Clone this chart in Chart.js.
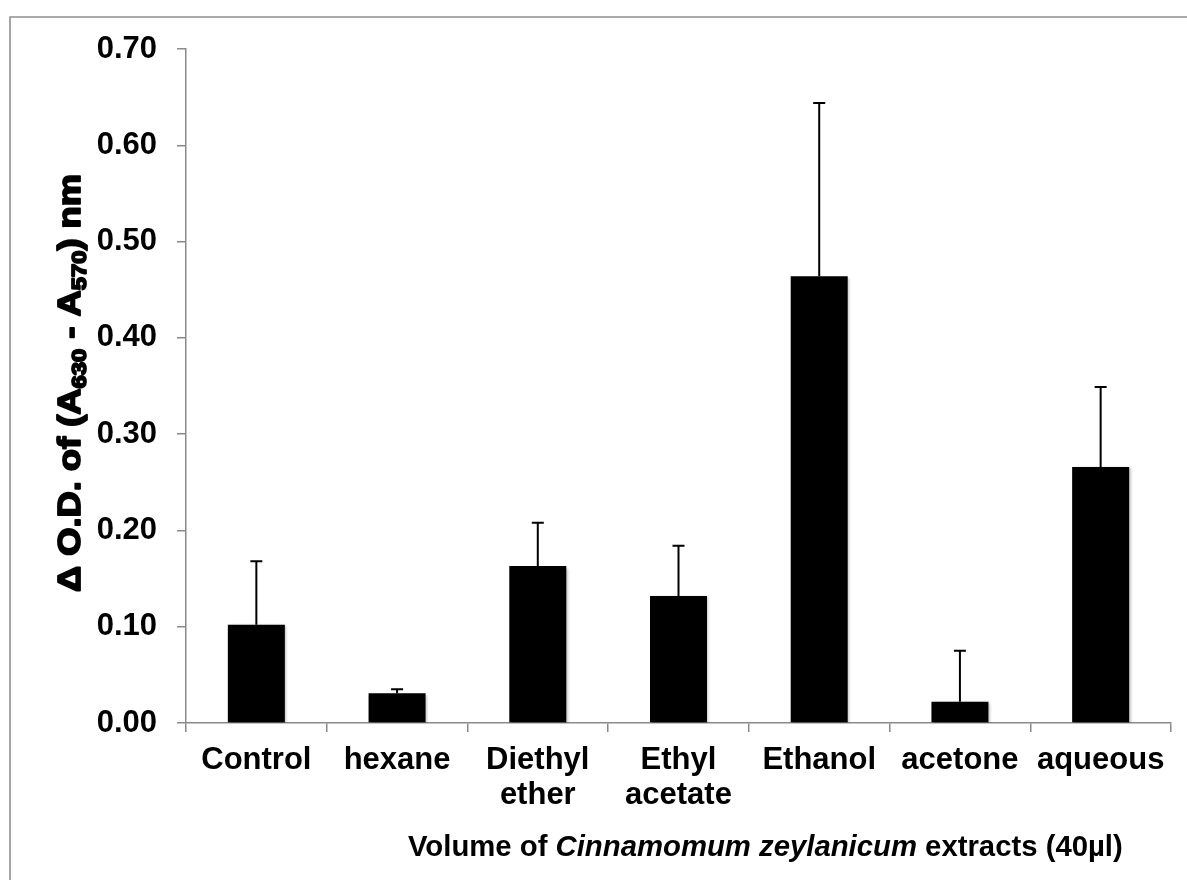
<!DOCTYPE html>
<html>
<head>
<meta charset="utf-8">
<script src="https://cdn.jsdelivr.net/npm/chart.js@4.4.1/dist/chart.umd.min.js"></script>
<style>
  body { margin: 0; background: #fff; }
  canvas { display: block; }
</style>
</head>
<body>
<canvas id="chart1" width="1187" height="880"></canvas>
<script>
// data
const solvents = ["Control", "hexane", ["Diethyl", "ether"], ["Ethyl", "acetate"], "Ethanol", "acetone", "aqueous"];
const meanOD = [0.102, 0.031, 0.163, 0.132, 0.464, 0.022, 0.266];
const errorOD = [0.066, 0.004, 0.045, 0.052, 0.180, 0.053, 0.083];
const yTicks = [0, 0.1, 0.2, 0.3, 0.4, 0.5, 0.6, 0.7];

const FONT = "'Liberation Sans', Arial, sans-serif";

// grey frame round the whole figure
const framePlugin = {
    id: "frame",
    beforeDraw(chart) {
        const ctx = chart.ctx;
        ctx.save();
        ctx.fillStyle = "#fff";
        ctx.fillRect(0, 0, chart.width, chart.height);
        ctx.strokeStyle = "#8f8f8f";
        ctx.lineWidth = 1.6;
        ctx.beginPath();
        ctx.moveTo(10, chart.height + 5);
        ctx.lineTo(10, 17);
        ctx.lineTo(chart.width + 5, 17);
        ctx.stroke();
        ctx.restore();
    }
};

// soft shadow under the bars like the office chart
const shadowPlugin = {
    id: "barShadow",
    beforeDatasetsDraw(chart) {
        const ctx = chart.ctx;
        ctx.save();
        ctx.shadowColor = "rgba(0,0,0,0.3)";
        ctx.shadowBlur = 3;
        ctx.shadowOffsetX = 1.5;
        ctx.shadowOffsetY = 1.5;
    },
    afterDatasetsDraw(chart) {
        chart.ctx.restore();
    }
};

// upper error bars, positioned through the y scale
const errorBarPlugin = {
    id: "errorBars",
    afterDatasetsDraw(chart) {
        const ctx = chart.ctx;
        const yScale = chart.scales.y;
        const bars = chart.getDatasetMeta(0).data;
        ctx.save();
        ctx.strokeStyle = "#000";
        ctx.lineWidth = 2;
        bars.forEach((bar, i) => {
            const yTop = yScale.getPixelForValue(meanOD[i] + errorOD[i]);
            const yBase = yScale.getPixelForValue(meanOD[i]);
            ctx.beginPath();
            ctx.moveTo(bar.x, yBase);
            ctx.lineTo(bar.x, yTop);
            ctx.moveTo(bar.x - 6, yTop);
            ctx.lineTo(bar.x + 6, yTop);
            ctx.stroke();
        });
        ctx.restore();
    }
};

// axis titles with subscripts and italics
function drawRuns(ctx, runs, x, y) {
    let cx = x;
    runs.forEach(r => {
        ctx.font = r.font;
        ctx.fillText(r.text, cx, y + (r.dy || 0));
        if (r.stroke) ctx.strokeText(r.text, cx, y + (r.dy || 0));
        cx += ctx.measureText(r.text).width;
    });
}
function runsWidth(ctx, runs) {
    let w = 0;
    runs.forEach(r => { ctx.font = r.font; w += ctx.measureText(r.text).width; });
    return w;
}

const titlesPlugin = {
    id: "axisTitles",
    afterDraw(chart) {
        const ctx = chart.ctx;
        ctx.save();
        ctx.fillStyle = "#000";
        ctx.strokeStyle = "#000";
        ctx.textBaseline = "alphabetic";
        ctx.textAlign = "left";

        // x title
        const big = "bold 29.3px " + FONT;
        const xRuns = [
            { text: "Volume of ", font: big },
            { text: "Cinnamomum zeylanicum", font: "italic " + big },
            { text: " extracts (40µl)", font: big }
        ];
        drawRuns(ctx, xRuns, 408, 856);

        // y title, heavy face, rotated
        const yFont = "bold 32px " + FONT;
        const subFont = "bold 21px " + FONT;
        const yRuns = [
            { text: "Δ O.D. of (A", font: yFont, stroke: true },
            { text: "630", font: subFont, dy: 6, stroke: true },
            { text: " - A", font: yFont, stroke: true },
            { text: "570", font: subFont, dy: 6, stroke: true },
            { text: ") nm", font: yFont, stroke: true }
        ];
        const w = runsWidth(ctx, yRuns);
        const len = 418;
        ctx.translate(80, 383);
        ctx.rotate(-Math.PI / 2);
        ctx.scale(len / w, 1);
        ctx.lineWidth = 1.8;
        ctx.lineJoin = "round";
        drawRuns(ctx, yRuns, -w / 2, 0);
        ctx.restore();
    }
};

const odCanvas = document.getElementById("chart1").getContext("2d");
const odChart = new Chart(odCanvas, {
    type: "bar",
    data: {
        labels: solvents,
        datasets: [{
            data: meanOD,
            backgroundColor: "#000",
            barPercentage: 1,
            categoryPercentage: 0.405
        }]
    },
    options: {
        responsive: false,
        animation: false,
        devicePixelRatio: 1,
        layout: {
            padding: { top: 49, right: 16, bottom: 0, left: 0 }
        },
        scales: {
            x: {
                grid: {
                    offset: true,
                    drawOnChartArea: false,
                    drawTicks: true,
                    tickLength: 9,
                    color: "#8a8a8a",
                    lineWidth: 1.5
                },
                border: { color: "#8a8a8a", width: 1.5 },
                ticks: {
                    color: "#000",
                    padding: 11,
                    maxRotation: 0,
                    autoSkip: false,
                    font: { family: FONT, size: 31, weight: "bold", lineHeight: 1.13 }
                },
                afterFit(scale) { scale.height = 157; }
            },
            y: {
                min: 0,
                max: 0.7,
                afterBuildTicks(scale) {
                    scale.ticks = yTicks.map(v => ({ value: v }));
                },
                grid: {
                    drawOnChartArea: false,
                    drawTicks: true,
                    tickLength: 9,
                    color: "#8a8a8a",
                    lineWidth: 1.5
                },
                border: { color: "#8a8a8a", width: 1.5 },
                ticks: {
                    color: "#000",
                    padding: 20,
                    font: { family: FONT, size: 31, weight: "bold" },
                    callback: v => v.toFixed(2)
                },
                afterFit(scale) { scale.width = 186; }
            }
        },
        plugins: {
            legend: { display: false },
            tooltip: { enabled: false }
        }
    },
    plugins: [framePlugin, shadowPlugin, errorBarPlugin, titlesPlugin]
});
</script>
</body>
</html>
